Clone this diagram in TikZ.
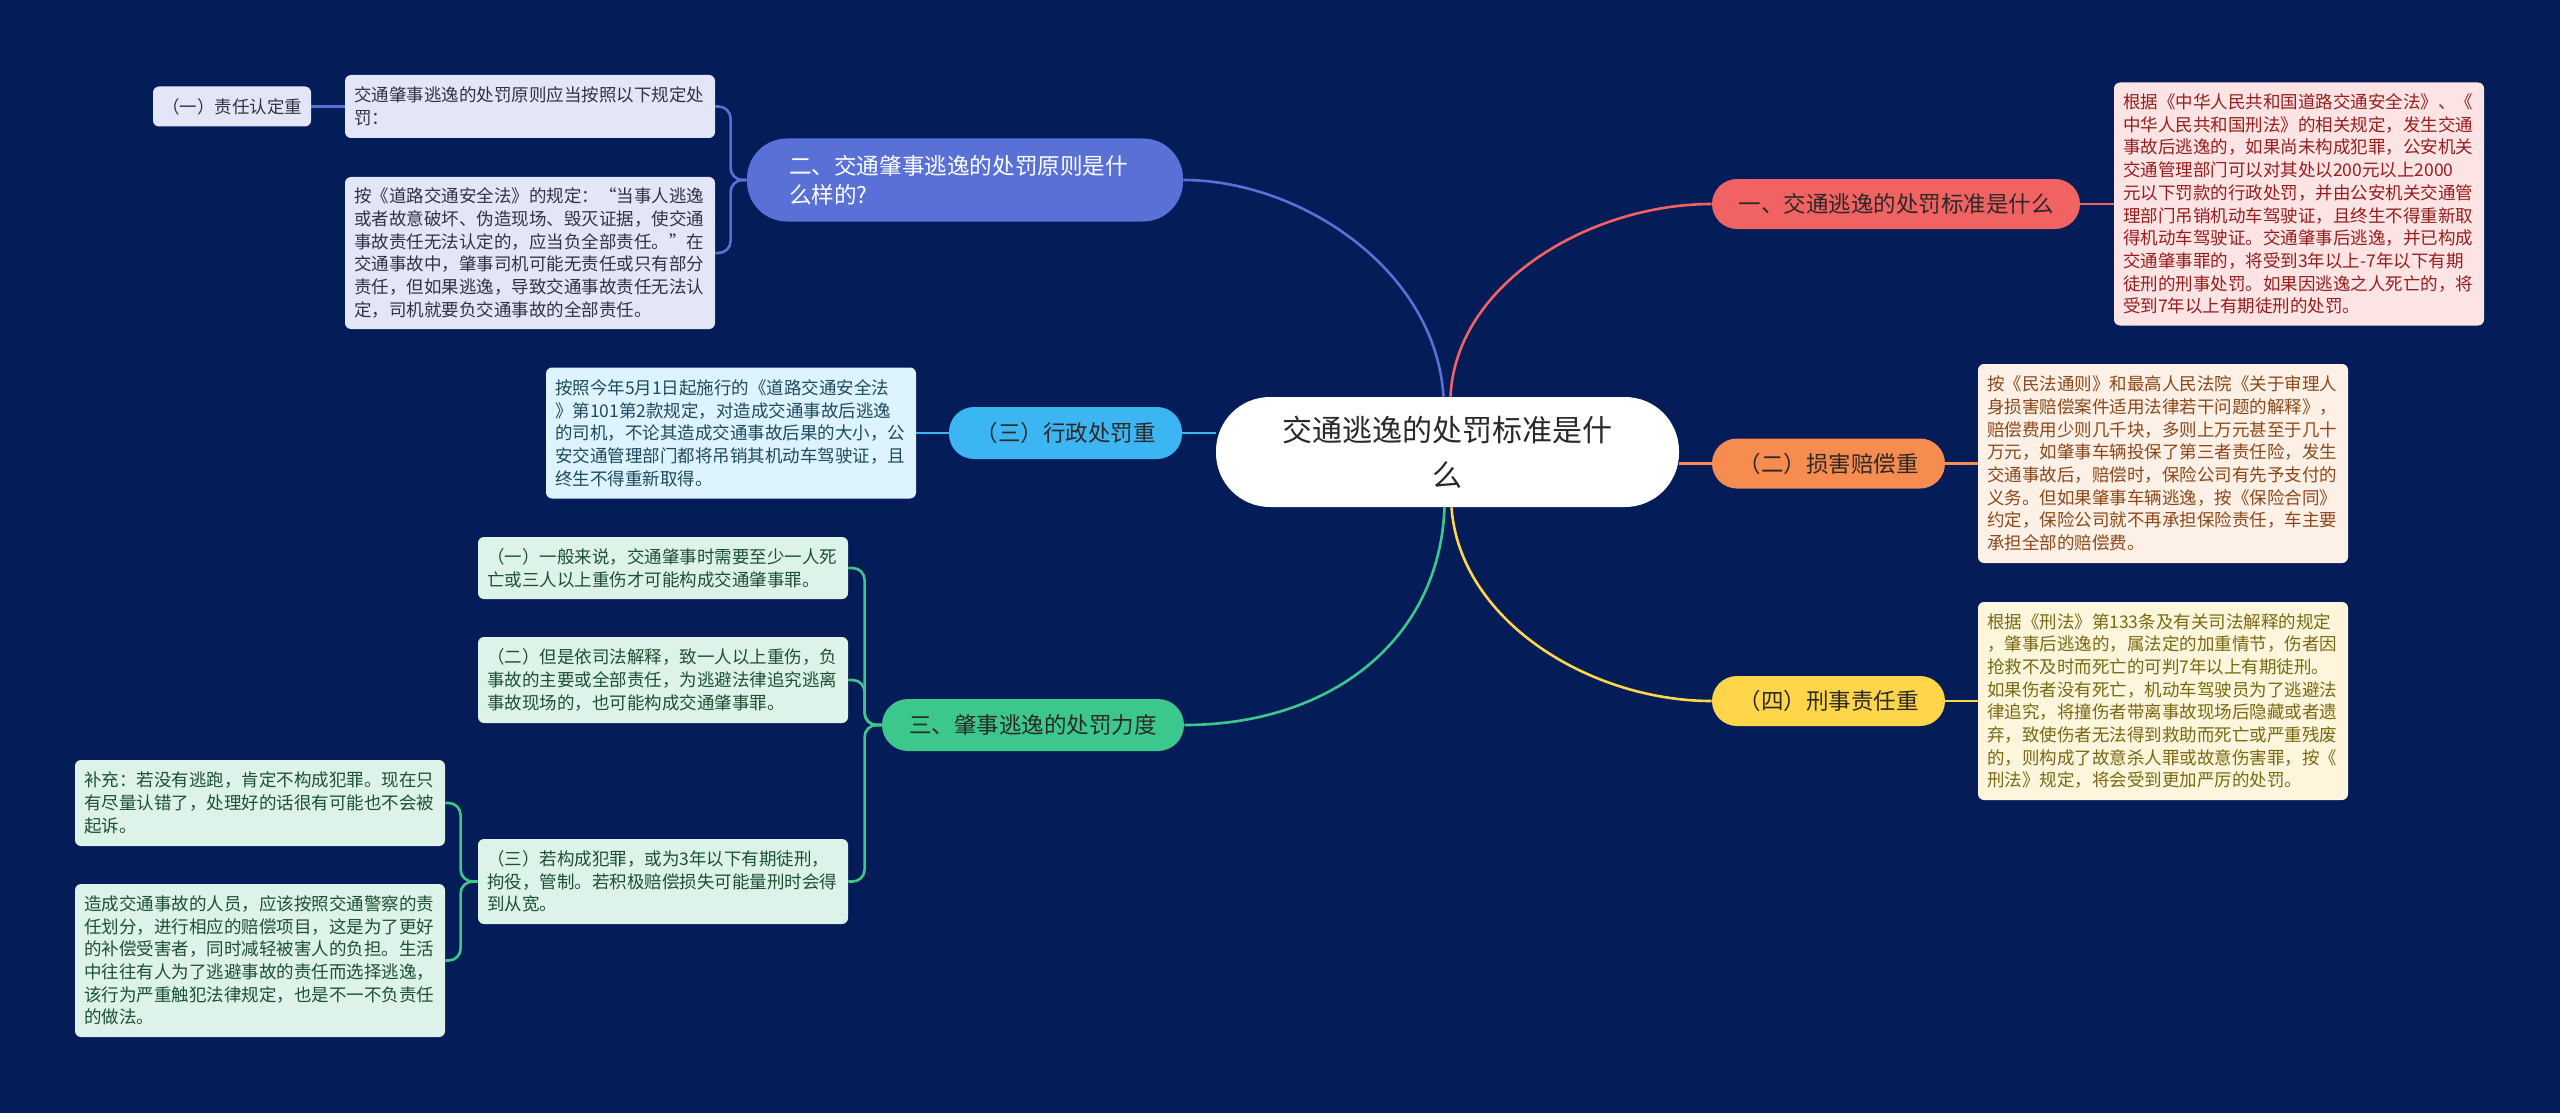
\documentclass[tikz,border=0pt]{standalone}
\usepackage{fontspec}
\setmainfont{Noto Sans CJK SC}
\usetikzlibrary{calc}
\definecolor{bgc}{RGB}{4,28,88}
\definecolor{redf}{RGB}{241,98,98}
\definecolor{orgf}{RGB}{247,140,80}
\definecolor{yelf}{RGB}{255,214,74}
\definecolor{cyaf}{RGB}{60,182,242}
\definecolor{bluf}{RGB}{89,112,214}
\definecolor{grnf}{RGB}{60,200,140}
\definecolor{redl}{RGB}{252,228,228}
\definecolor{orgl}{RGB}{253,240,230}
\definecolor{yell}{RGB}{253,246,220}
\definecolor{cyal}{RGB}{221,243,253}
\definecolor{blul}{RGB}{227,230,247}
\definecolor{grnl}{RGB}{221,243,233}
\definecolor{redt}{RGB}{150,30,30}
\definecolor{orgt}{RGB}{140,72,25}
\definecolor{yelt}{RGB}{122,104,18}
\definecolor{cyat}{RGB}{30,75,95}
\definecolor{blut}{RGB}{50,50,70}
\definecolor{grnt}{RGB}{30,80,50}
\definecolor{darkt}{RGB}{45,40,40}
\tikzset{
  leaf/.style={rounded corners=3pt, inner xsep=4.5pt, inner ysep=3pt,
    text width=176pt, align=left, minimum width=185pt,
    font=\fontsize{8.75pt}{11.35pt}\selectfont},
  branch/.style={rounded corners=12.5pt, inner sep=0pt, minimum height=25pt,
    align=center, text=darkt, font=\fontsize{11.25pt}{13pt}\selectfont},
  conn/.style={line width=1.3pt},
  brk/.style={line width=1.3pt, rounded corners=6pt}
}
\begin{document}
\begin{tikzpicture}[x=0.5pt,y=-0.5pt]
\fill[bgc] (0,0) rectangle (2560,1113);
\useasboundingbox (0,0) rectangle (2560,1113);

% center
\node[fill=white, rounded corners=27pt, minimum width=231.5pt, minimum height=55pt,
  inner sep=0pt, align=center, text=darkt,
  font=\fontsize{15pt}{22.5pt}\selectfont] (ctr) at (1447.5,452)
  {交通逃逸的处罚标准是什\\么};

% right side
\node[branch, fill=redf, minimum width=184pt] (r1) at (1896,204) {一、交通逃逸的处罚标准是什么};
\node[leaf, fill=redl, text=redt, minimum height=121.5pt] (rl) at (2299,204)
{根据《中华人民共和国道路交通安全法》、《\\中华人民共和国刑法》的相关规定，发生交通\\事故后逃逸的，如果尚未构成犯罪，公安机关\\交通管理部门可以对其处以200元以上2000\\元以下罚款的行政处罚，并由公安机关交通管\\理部门吊销机动车驾驶证，且终生不得重新取\\得机动车驾驶证。交通肇事后逃逸，并已构成\\交通肇事罪的，将受到3年以上-7年以下有期\\徒刑的刑事处罚。如果因逃逸之人死亡的，将\\受到7年以上有期徒刑的处罚。};

\node[branch, fill=orgf, minimum width=116.5pt] (o1) at (1828.5,463.5) {（二）损害赔偿重};
\node[leaf, fill=orgl, text=orgt, minimum height=99.5pt] (ol) at (2163,463.5)
{按《民法通则》和最高人民法院《关于审理人\\身损害赔偿案件适用法律若干问题的解释》，\\赔偿费用少则几千块，多则上万元甚至于几十\\万元，如肇事车辆投保了第三者责任险，发生\\交通事故后，赔偿时，保险公司有先予支付的\\义务。但如果肇事车辆逃逸，按《保险合同》\\约定，保险公司就不再承担保险责任，车主要\\承担全部的赔偿费。};

\node[branch, fill=yelf, minimum width=116.5pt] (y1) at (1828.5,701) {（四）刑事责任重};
\node[leaf, fill=yell, text=yelt, minimum height=99pt] (yl) at (2163,701)
{根据《刑法》第133条及有关司法解释的规定\\，肇事后逃逸的，属法定的加重情节，伤者因\\抢救不及时而死亡的可判7年以上有期徒刑。\\如果伤者没有死亡，机动车驾驶员为了逃避法\\律追究，将撞伤者带离事故现场后隐藏或者遗\\弃，致使伤者无法得到救助而死亡或严重残废\\的，则构成了故意杀人罪或故意伤害罪，按《\\刑法》规定，将会受到更加严厉的处罚。};

% left side: blue
\node[rounded corners=20pt, fill=bluf, text=white, inner xsep=21pt, inner ysep=0pt,
  minimum height=41.5pt, text width=176pt, align=left,
  font=\fontsize{11.3pt}{14.5pt}\selectfont] (b) at (965,180)
  {二、交通肇事逃逸的处罚原则是什\\么样的?};
\node[leaf, fill=blul, text=blut, minimum height=31.5pt] (b1) at (530,106.5)
{交通肇事逃逸的处罚原则应当按照以下规定处\\罚：};
\node[rounded corners=3pt, fill=blul, text=blut, minimum width=79pt, minimum height=20pt,
  inner sep=0pt, font=\fontsize{8.75pt}{11.35pt}\selectfont] (b1s) at (232,106.5) {（一）责任认定重};
\node[leaf, fill=blul, text=blut, minimum height=76pt] (b2) at (530,253)
{按《道路交通安全法》的规定：“当事人逃逸\\或者故意破坏、伪造现场、毁灭证据，使交通\\事故责任无法认定的，应当负全部责任。”在\\交通事故中，肇事司机可能无责任或只有部分\\责任，但如果逃逸，导致交通事故责任无法认\\定，司机就要负交通事故的全部责任。};

% cyan
\node[branch, fill=cyaf, minimum width=116.5pt, minimum height=26pt] (c) at (1065.5,433) {（三）行政处罚重};
\node[leaf, fill=cyal, text=cyat, minimum height=65.5pt] (cl) at (731,433)
{按照今年5月1日起施行的《道路交通安全法\\》第101第2款规定，对造成交通事故后逃逸\\的司机，不论其造成交通事故后果的大小，公\\安交通管理部门都将吊销其机动车驾驶证，且\\终生不得重新取得。};

% green
\node[branch, fill=grnf, minimum width=151pt, minimum height=26pt, rounded corners=13pt] (g) at (1033,725) {三、肇事逃逸的处罚力度};
\node[leaf, fill=grnl, text=grnt, minimum height=31pt] (g1) at (663,568)
{（一）一般来说，交通肇事时需要至少一人死\\亡或三人以上重伤才可能构成交通肇事罪。};
\node[leaf, fill=grnl, text=grnt, minimum height=43pt] (g2) at (663,680)
{（二）但是依司法解释，致一人以上重伤，负\\事故的主要或全部责任，为逃避法律追究逃离\\事故现场的，也可能构成交通肇事罪。};
\node[leaf, fill=grnl, text=grnt, minimum height=42.5pt] (g3) at (663,881.5)
{（三）若构成犯罪，或为3年以下有期徒刑，\\拘役，管制。若积极赔偿损失可能量刑时会得\\到从宽。};
\node[leaf, fill=grnl, text=grnt, minimum height=43pt] (s1) at (260,803)
{补充：若没有逃跑，肯定不构成犯罪。现在只\\有尽量认错了，处理好的话很有可能也不会被\\起诉。};
\node[leaf, fill=grnl, text=grnt, minimum height=76.5pt] (s2) at (260,960.5)
{造成交通事故的人员，应该按照交通警察的责\\任划分，进行相应的赔偿项目，这是为了更好\\的补偿受害者，同时减轻被害人的负担。生活\\中往往有人为了逃避事故的责任而选择逃逸，\\该行为严重触犯法律规定，也是不一不负责任\\的做法。};

% main connectors
\draw[conn, draw=redf] ($(ctr.north)+(3,0)$) .. controls ($(ctr.north)+(8,-113)$) and ($(r1.west)+(-122,0)$) .. (r1.west);
\draw[conn, draw=bluf] ($(ctr.north)+(-4,0)$) .. controls ($(ctr.north)+(-12,-127)$) and ($(b.east)+(117,0)$) .. (b.east);
\draw[conn, draw=grnf] ($(ctr.south)+(-3,0)$) .. controls ($(ctr.south)+(-8,133)$) and ($(g.east)+(146,0)$) .. (g.east);
\draw[conn, draw=yelf] ($(ctr.south)+(4,0)$) .. controls ($(ctr.south)+(12,113)$) and ($(y1.west)+(-122,0)$) .. (y1.west);
\draw[conn, draw=orgf] (ctr.east |- o1.west) -- (o1.west);
\draw[conn, draw=cyaf] (c.east) -- (ctr.west |- c.east);

% leaf connectors
\draw[conn, draw=redf] (r1.east) -- (rl.west);
\draw[conn, draw=orgf] (o1.east) -- (ol.west);
\draw[conn, draw=yelf] (y1.east) -- (yl.west);
\draw[conn, draw=cyaf] (cl.east) -- (c.west);
\draw[conn, draw=bluf] (b1s.east) -- (b1.west);
\draw[brk, draw=bluf] (b.west) -- ++(-16,0) |- (b1.east);
\draw[brk, draw=bluf] (b.west) -- ++(-16,0) |- (b2.east);
\draw[brk, draw=grnf] (g.west) -- ++(-17,0) |- (g1.east);
\draw[brk, draw=grnf] (g.west) -- ++(-17,0) |- (g2.east);
\draw[brk, draw=grnf] (g.west) -- ++(-17,0) |- (g3.east);
\draw[brk, draw=grnf] (g3.west) -- ++(-17,0) |- (s1.east);
\draw[brk, draw=grnf] (g3.west) -- ++(-17,0) |- (s2.east);
\end{tikzpicture}
\end{document}
